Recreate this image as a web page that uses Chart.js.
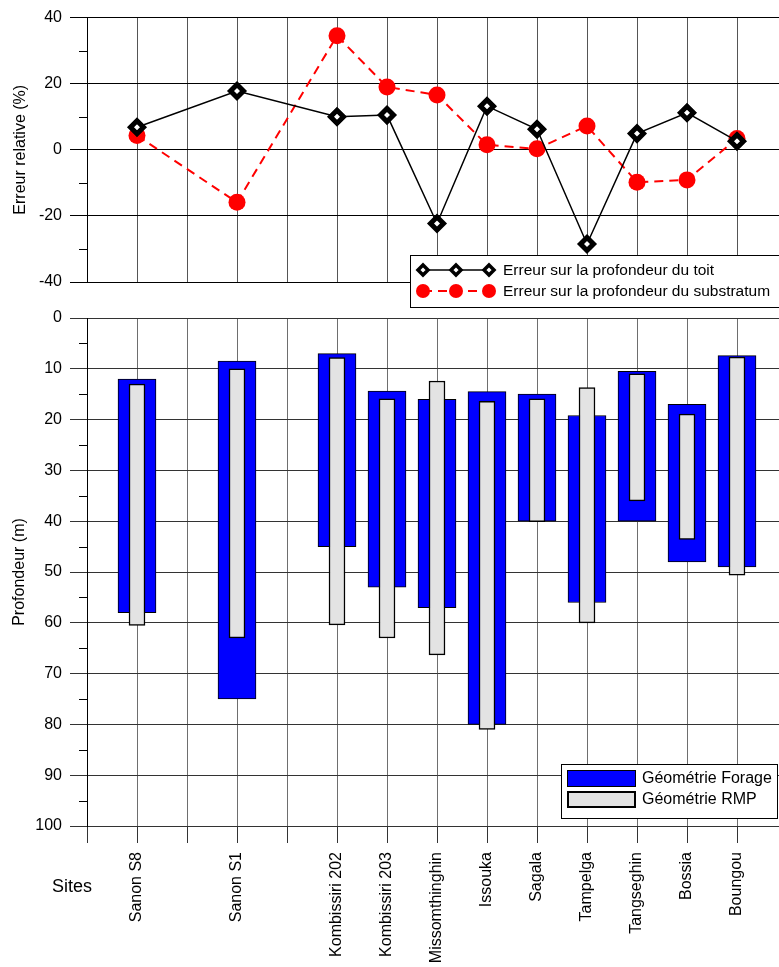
<!DOCTYPE html>
<html>
<head>
<meta charset="utf-8">
<script src="https://cdn.jsdelivr.net/npm/chart.js@4.4.1/dist/chart.umd.min.js"></script>
<style>
  html, body { margin: 0; padding: 0; overflow: hidden; background: #fff; width: 779px; height: 967px; }
  #wrap { position: relative; width: 800px; height: 967px; }
  canvas { position: absolute; left: 0; }
  #errChart { top: 0; }
  #depthChart { top: 300px; }
</style>
</head>
<body>
<div id="wrap">
  <canvas id="depthChart" width="800" height="667"></canvas>
  <canvas id="errChart" width="800" height="320"></canvas>
</div>
<script>
// Axis slots: sites sit on the grid, empty slots keep the spacing
const slots = ['', 'Sanon S8', '', 'Sanon S1', '', 'Kombissiri 202', 'Kombissiri 203',
  'Missomthinghin', 'Issouka', 'Sagala', 'Tampelga', 'Tangseghin', 'Bossia', 'Boungou', ''];

// Relative error (%)
const errToit       = [null, 6.8, null, 17.8, null, 10.0, 10.5, -22.3, 13.2, 6.2, -28.5, 4.9, 11.2, 2.6, null];
const errSubstratum = [null, 4.3, null, -15.9, null, 34.5, 19.0, 16.6, 1.5, 0.3, 7.2, -9.8, -9.1, 3.4, null];

// Depth (m): top and base of each interval
const forageTop  = [null, 12.0, null, 8.5, null, 7.0, 14.4, 16.0, 14.5, 15.0, 19.2, 10.5, 17.0, 7.4, null];
const forageBase = [null, 58.0, null, 75.0, null, 45.0, 53.0, 57.0, 80.0, 40.0, 56.0, 40.0, 48.0, 49.0, null];
const rmpTop     = [null, 13.0, null, 10.0, null, 7.8, 15.9, 12.4, 16.4, 15.9, 13.7, 11.0, 18.9, 7.7, null];
const rmpBase    = [null, 60.5, null, 63.0, null, 60.4, 63.0, 66.3, 81.0, 40.1, 60.0, 36.0, 43.6, 50.6, null];

// Minor tick values on the vertical axes
const errMinorTicks   = [-30, -10, 10, 30];
const depthMinorTicks = [5, 15, 25, 35, 45, 55, 65, 75, 85, 95];

const FONT = '"Liberation Sans", Arial, Helvetica, sans-serif';
Chart.defaults.font.family = FONT;
Chart.defaults.font.size = 16;
Chart.defaults.color = '#000';

const pairs = (a, b) => a.map((v, i) => (v === null ? null : [v, b[i]]));

function minorTickPlugin(values) {
  return {
    id: 'minorTicks',
    afterDraw(chart) {
      const y = chart.scales.y, ctx = chart.ctx;
      ctx.save();
      ctx.strokeStyle = '#000';
      ctx.lineWidth = 1;
      ctx.beginPath();
      values.forEach(v => {
        const py = Math.round(y.getPixelForValue(v)) + 0.5;
        ctx.moveTo(y.right - 8, py);
        ctx.lineTo(y.right, py);
      });
      ctx.stroke();
      ctx.restore();
    }
  };
}

// Legend of the error panel (line samples with markers)
const errLegend = {
  id: 'errLegend',
  afterDraw(chart) {
    const ctx = chart.ctx;
    const ds = chart.data.datasets;
    ctx.save();
    ctx.fillStyle = '#fff';
    ctx.fillRect(410.5, 255.5, 390, 52);
    ctx.strokeStyle = '#000';
    ctx.lineWidth = 1;
    ctx.strokeRect(410.5, 255.5, 390, 52);
    const xs = [423, 456, 489];
    // row 1: black line with diamonds
    let y = 270;
    ctx.strokeStyle = '#000';
    ctx.lineWidth = 1.5;
    ctx.beginPath(); ctx.moveTo(xs[0], y); ctx.lineTo(xs[2], y); ctx.stroke();
    xs.forEach(x => {
      ctx.beginPath();
      ctx.moveTo(x - 5, y); ctx.lineTo(x, y - 5); ctx.lineTo(x + 5, y); ctx.lineTo(x, y + 5); ctx.closePath();
      ctx.fillStyle = '#fff'; ctx.fill();
      ctx.lineWidth = 3.5; ctx.strokeStyle = '#000'; ctx.stroke();
    });
    // row 2: red dashed line with dots
    y = 291;
    ctx.strokeStyle = '#ff0000';
    ctx.lineWidth = 2;
    ctx.setLineDash([9, 6]);
    ctx.beginPath(); ctx.moveTo(xs[0], y); ctx.lineTo(xs[2], y); ctx.stroke();
    ctx.setLineDash([]);
    ctx.fillStyle = '#ff0000';
    xs.forEach(x => { ctx.beginPath(); ctx.arc(x, y, 7, 0, Math.PI * 2); ctx.fill(); });
    ctx.fillStyle = '#000';
    ctx.font = '15.5px ' + FONT;
    ctx.textBaseline = 'middle';
    ctx.textAlign = 'left';
    ctx.fillText(ds[0].label, 503, 271);
    ctx.fillText(ds[1].label, 503, 292);
    ctx.restore();
  }
};

new Chart(document.getElementById('errChart'), {
  type: 'line',
  data: {
    labels: slots,
    datasets: [
      {
        label: 'Erreur sur la profondeur du toit',
        data: errToit,
        borderColor: '#000',
        borderWidth: 1.5,
        pointStyle: 'rectRot',
        pointRadius: 6.5,
        pointBorderWidth: 5,
        pointBackgroundColor: '#fff',
        pointBorderColor: '#000',
        spanGaps: true,
        tension: 0
      },
      {
        label: 'Erreur sur la profondeur du substratum',
        data: errSubstratum,
        borderColor: '#ff0000',
        borderWidth: 2,
        borderDash: [9, 6],
        pointStyle: 'circle',
        pointRadius: 8.5,
        pointBorderWidth: 0,
        pointBackgroundColor: '#ff0000',
        pointBorderColor: '#ff0000',
        spanGaps: true,
        tension: 0
      }
    ]
  },
  options: {
    responsive: false,
    animation: false,
    events: [],
    layout: { padding: { top: 15, right: 13, left: 0, bottom: 0 } },
    plugins: { legend: { display: false }, tooltip: { enabled: false } },
    scales: {
      x: {
        type: 'category',
        offset: false,
        grid: { color: '#555', drawTicks: false, offset: false },
        border: { display: false },
        ticks: { display: false },
        afterFit(s) { s.height = 38; s.paddingLeft = 0; s.paddingRight = 0; }
      },
      y: {
        min: -40, max: 40,
        ticks: { stepSize: 20, padding: 8 },
        grid: { color: '#000', tickLength: 17 },
        border: { color: '#000' },
        title: { display: true, text: 'Erreur relative (%)', padding: { top: 11, bottom: 0 } },
        afterFit(s) { s.width = 87; }
      }
    }
  },
  plugins: [minorTickPlugin(errMinorTicks), errLegend]
});

const DEPTH_TOP = 300; // canvas offset on the page

// Legend and axis caption of the depth panel
const depthLegend = {
  id: 'depthLegend',
  afterDraw(chart) {
    const ctx = chart.ctx;
    const ds = chart.data.datasets;
    const o = -DEPTH_TOP;
    ctx.save();
    ctx.fillStyle = '#fff';
    ctx.fillRect(561.5, 764.5 + o, 216, 54);
    ctx.strokeStyle = '#000';
    ctx.lineWidth = 1;
    ctx.strokeRect(561.5, 764.5 + o, 216, 54);
    // swatches
    ctx.fillStyle = ds[0].backgroundColor;
    ctx.fillRect(567, 770 + o, 69, 17);
    ctx.strokeStyle = '#000';
    ctx.lineWidth = 1;
    ctx.strokeRect(567.5, 770.5 + o, 68, 16);
    ctx.fillStyle = ds[1].backgroundColor;
    ctx.fillRect(567, 791 + o, 69, 17);
    ctx.lineWidth = 2;
    ctx.strokeRect(568, 792 + o, 67, 15);
    ctx.fillStyle = '#000';
    ctx.font = '16px ' + FONT;
    ctx.textBaseline = 'middle';
    ctx.textAlign = 'left';
    ctx.fillText(ds[0].label, 642, 779 + o);
    ctx.fillText(ds[1].label, 642, 800 + o);
    // caption of the site axis
    ctx.font = '18px ' + FONT;
    ctx.textAlign = 'center';
    ctx.fillText('Sites', 72, 887 + o);
    ctx.restore();
  }
};

new Chart(document.getElementById('depthChart'), {
  type: 'bar',
  data: {
    labels: slots,
    datasets: [
      {
        label: 'Géométrie Forage',
        data: pairs(forageTop, forageBase),
        backgroundColor: '#0000ff',
        borderColor: '#000',
        borderWidth: 1,
        borderSkipped: false,
        barThickness: 38,
        grouped: false,
        order: 2
      },
      {
        label: 'Géométrie RMP',
        data: pairs(rmpTop, rmpBase),
        backgroundColor: '#e3e3e3',
        borderColor: '#000',
        borderWidth: 1.5,
        borderSkipped: false,
        barThickness: 16,
        grouped: false,
        order: 1
      }
    ]
  },
  options: {
    responsive: false,
    animation: false,
    events: [],
    layout: { padding: { top: 18, right: 13, left: 0, bottom: 0 } },
    plugins: { legend: { display: false }, tooltip: { enabled: false } },
    scales: {
      x: {
        type: 'category',
        offset: false,
        grid: { color: '#6e6e6e', tickLength: 17, tickColor: '#333', offset: false },
        border: { color: '#333' },
        ticks: { autoSkip: false, minRotation: 90, maxRotation: 90, padding: 9 },
        afterFit(s) { s.height = 141; s.paddingLeft = 0; s.paddingRight = 0; }
      },
      y: {
        reverse: true,
        min: 0, max: 100,
        ticks: { stepSize: 10, padding: 8 },
        grid: { color: '#333', tickLength: 17 },
        border: { color: '#000' },
        title: { display: true, text: 'Profondeur (m)', padding: { top: 10, bottom: 0 } },
        afterFit(s) { s.width = 87; }
      }
    }
  },
  plugins: [minorTickPlugin(depthMinorTicks), depthLegend]
});
</script>
</body>
</html>
